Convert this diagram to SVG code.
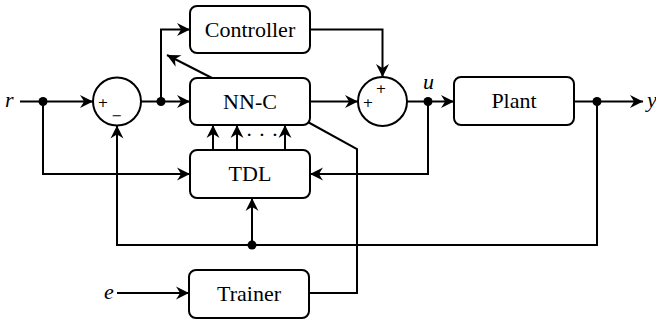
<svg xmlns="http://www.w3.org/2000/svg" width="656" height="320" viewBox="0 0 656 320">
  <style>
    .box { fill: #fff; stroke: #000; stroke-width: 2; }
    .sum { fill: #fff; stroke: #000; stroke-width: 2; }
    .wire { fill: none; stroke: #000; stroke-width: 2; }
    .arr { marker-end: url(#head); }
    .lbl { font-family: "Liberation Serif", "DejaVu Serif", serif; font-size: 22px; text-anchor: middle; fill: #000; }
    .var { font-family: "Liberation Serif", "DejaVu Serif", serif; font-style: italic; font-size: 22px; fill: #000; }
    .sgn { font-family: "DejaVu Sans", "Liberation Sans", sans-serif; font-size: 13px; text-anchor: middle; fill: #000; }
    .dot { fill: #000; }
  </style>
  <defs>
    <marker id="head" viewBox="-14 -8 16 16" markerWidth="16" markerHeight="16" refX="0" refY="0" orient="auto" markerUnits="userSpaceOnUse" overflow="visible">
      <path d="M0,0 L-13,-6.5 Q-10,-2 -9,0 Q-10,2 -13,6.5 Z" fill="#000"/>
    </marker>
  </defs>

  <!-- connectors -->
  <g id="connectors">
    <path class="wire arr" d="M20,101.5 H93"/>
    <path class="wire arr" d="M43,101.5 V174 H190"/>
    <path class="wire arr" d="M141,101.5 H190"/>
    <path class="wire arr" d="M161,101.5 V29.5 H190"/>
    <path class="wire arr" d="M212,78 L167,55"/>
    <path class="wire arr" d="M310,101.5 H358"/>
    <path class="wire arr" d="M310,29.5 H382.5 V77"/>
    <path class="wire arr" d="M407,101.5 H454"/>
    <path class="wire arr" d="M428,101.5 V174 H310"/>
    <path class="wire arr" d="M574,101.5 H643"/>
    <path class="wire arr" d="M597,101.5 V245 H117 V125.5"/>
    <path class="wire arr" d="M252,245 V198"/>
    <path class="wire arr" d="M213,150 V125"/>
    <path class="wire arr" d="M237,150 V125"/>
    <path class="wire arr" d="M285,150 V125"/>
    <path class="wire" d="M306,121 L357,149 V293 H309"/>
    <path class="wire arr" d="M117,293 H189"/>
    <circle class="dot" cx="43" cy="101.5" r="4.5"/>
    <circle class="dot" cx="161" cy="101.5" r="4.5"/>
    <circle class="dot" cx="428" cy="101.5" r="4.5"/>
    <circle class="dot" cx="597" cy="101.5" r="4.5"/>
    <circle class="dot" cx="252" cy="245" r="4.5"/>
    <text class="lbl" x="262" y="142">· · ·</text>
  </g>

  <!-- signal labels -->
  <text class="var" x="5" y="107">r</text>
  <text class="var" x="423" y="89">u</text>
  <text class="var" x="647" y="107">y</text>
  <text class="var" x="104" y="299">e</text>

  <g id="sum1">
    <circle class="sum" cx="117" cy="101.5" r="24"/>
    <text class="sgn" x="103" y="107">+</text>
    <text class="sgn" x="117" y="120">−</text>
  </g>

  <g id="sum2">
    <circle class="sum" cx="382.5" cy="101.5" r="24.5"/>
    <text class="sgn" x="381" y="93">+</text>
    <text class="sgn" x="368" y="107">+</text>
  </g>

  <g id="controller">
    <rect class="box" x="190" y="6" width="120" height="47" rx="7"/>
    <text class="lbl" x="250" y="36.5">Controller</text>
  </g>

  <g id="nnc">
    <rect class="box" x="190" y="78" width="120" height="47" rx="7"/>
    <text class="lbl" x="250" y="108.5">NN-C</text>
  </g>

  <g id="tdl">
    <rect class="box" x="190" y="150" width="120" height="48" rx="7"/>
    <text class="lbl" x="250" y="181">TDL</text>
  </g>

  <g id="plant">
    <rect class="box" x="454" y="77" width="120" height="48" rx="7"/>
    <text class="lbl" x="514" y="108">Plant</text>
  </g>

  <g id="trainer">
    <rect class="box" x="189" y="270" width="120" height="48" rx="7"/>
    <text class="lbl" x="249" y="301">Trainer</text>
  </g>
</svg>
